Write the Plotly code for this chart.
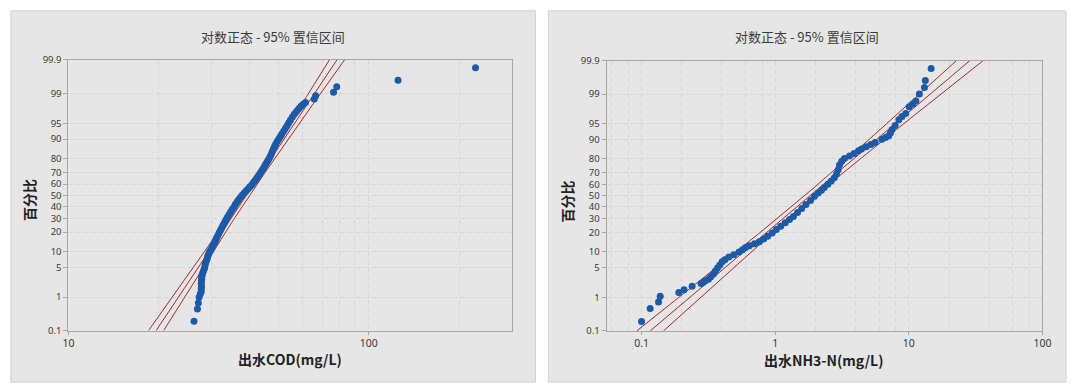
import math
import numpy as np
import plotly.graph_objects as go
from statistics import NormalDist

ND = NormalDist()


def zq(p):
    return ND.inv_cdf(p / 100.0)


W, H = 1080, 392

# ---------------- data ----------------
pct_ticks = [0.1, 1, 5, 10, 20, 30, 40, 50, 60, 70, 80, 90, 95, 99, 99.9]
pct_labels = ["0.1", "1", "5", "10", "20", "30", "40", "50", "60", "70", "80", "90", "95", "99", "99.9"]

title_text = "对数正态 - 95% 置信区间"
y_title = "百分比"
cod_title = "出水COD(mg/L)"
nh3_title = "出水NH3-N(mg/L)"

cod_values = [26.2, 26.9, 27.1, 27.25, 27.5, 27.7, 27.7, 27.75, 27.7, 27.75, 27.8, 27.8, 27.85,
              28.0, 28.2, 28.4, 28.5, 28.6, 28.8, 29.0, 29.1, 29.3, 29.5, 29.8, 30.1, 30.3, 30.6,
              30.8, 31.0, 31.2, 31.5, 31.8, 32.1, 32.4, 32.7, 33.0, 33.3, 33.6,
              33.9, 34.3, 34.7, 35.1, 35.6, 36.0, 36.5, 36.9, 37.4, 37.9, 38.5, 39.1, 39.7, 40.3,
              40.9, 41.4, 41.9, 42.4, 42.9, 43.4, 43.9, 44.4, 44.9, 45.4, 45.9, 46.4, 46.9, 47.3,
              47.7, 48.1, 48.5, 49.0, 49.6, 50.2, 50.8, 51.4, 52.1, 52.8, 53.5, 54.2, 54.9, 55.7,
              56.6, 57.5, 58.5, 59.5, 60.5, 61.6, 65.9, 66.6, 76.4, 78.3, 125.3, 227.0]
cod_pct = [0.2, 0.47, 0.7, 1.0, 1.2, 1.4, 1.65, 1.9, 2.2, 2.5, 2.8, 3.1, 3.4,
           3.8, 4.3, 4.8, 5.4, 6.0, 6.7, 7.4, 8.1, 8.9, 9.8, 10.6, 11.6, 12.6, 13.6,
           14.6, 15.6, 16.7, 18.0, 19.7, 21.2, 22.8, 24.4, 26.0, 27.6, 29.3,
           31.0, 33.0, 35.0, 37.2, 39.5, 41.8, 44.0, 46.0, 48.0, 50.0, 52.0, 54.0, 56.0, 58.0,
           59.8, 61.6, 63.4, 65.2, 67.0, 68.8, 70.6, 72.4, 74.2, 76.0, 77.8, 79.3, 80.8, 82.3,
           83.8, 85.2, 86.5, 87.8, 89.0, 90.0, 91.0, 91.9, 92.8, 93.6, 94.4, 95.1, 95.7, 96.3,
           96.8, 97.2, 97.6, 97.9, 98.1, 98.3, 98.6, 98.85, 99.06, 99.34, 99.57, 99.82]

nh3_values = [0.100, 0.116, 0.134, 0.138, 0.190, 0.208, 0.239, 0.279, 0.29, 0.30, 0.317, 0.33,
              0.345, 0.356, 0.37, 0.385, 0.401, 0.42, 0.45, 0.49, 0.537, 0.57, 0.60, 0.641, 0.70,
              0.762, 0.82, 0.88, 0.95, 1.02, 1.10, 1.19, 1.28, 1.37, 1.47, 1.58, 1.70, 1.84, 1.97,
              2.10, 2.22, 2.33, 2.48, 2.63, 2.77, 2.88, 2.96, 3.03, 3.15, 3.30, 3.6, 3.9, 4.2, 4.43,
              4.8, 5.2, 5.6, 6.29, 6.7, 7.08, 7.3, 7.5, 7.9, 8.43, 8.9, 9.48, 10.07, 10.7, 11.3,
              12.0, 13.1, 13.3, 14.7]
nh3_pct = [0.20, 0.50, 0.76, 1.08, 1.35, 1.58, 1.92, 2.23, 2.4, 2.6, 2.8, 3.2,
           3.7, 4.2, 4.9, 5.7, 6.6, 7.2, 8.1, 8.9, 9.9, 10.9, 11.8, 12.7, 13.6,
           14.7, 16.2, 17.8, 19.7, 22.0, 24.3, 26.9, 29.4, 31.7, 35.0, 38.5, 42.0, 45.8, 49.5,
           52.5, 55.0, 57.5, 60.5, 63.3, 65.9, 69.0, 72.5, 76.0, 78.5, 80.3, 81.8, 83.3, 84.8, 85.8,
           86.9, 87.9, 88.9, 90.2, 90.9, 91.5, 92.5, 93.5, 94.6, 95.9, 96.5, 97.0, 97.9, 98.2, 98.5,
           99.0, 99.34, 99.58, 99.82]

# lognormal fit (log10 location, log10 scale, sample size)
cod_fit_loc, cod_fit_scale, cod_n = 1.5933, 0.0975, 333
nh3_fit_loc, nh3_fit_scale, nh3_n = 0.2605, 0.387, 333

cod_grid_minor = [20, 30, 40, 50, 60, 70, 80, 90, 200]
nh3_grid_minor = [0.06, 0.08, 0.2, 0.4, 0.6, 0.8, 2, 4, 6, 8, 20, 40, 60, 80]

# ---------------- style ----------------
BLUE = "#1c5aa8"
RED = "#a3282c"
GRID = "#d6d6d6"
AXL = "#a6a6a6"
TXT = "#3a3a3a"
FONT = "Noto Sans, Noto Sans CJK SC, sans-serif"
CJK = "Noto Sans CJK SC, sans-serif"

zlo, zhi = zq(0.1), zq(99.9)


def fit_lines(loc, scale, n):
    zz = np.linspace(zlo, zhi, 60)
    half = 1.959964 * scale * np.sqrt(1.0 / n + zz ** 2 / (2.0 * n))
    mid = loc + zz * scale
    return zz, 10 ** mid, 10 ** (mid - half), 10 ** (mid + half)


fig = go.Figure()

panels = [
    dict(vals=cod_values, pct=cod_pct, fit=(cod_fit_loc, cod_fit_scale, cod_n), xa="x", ya="y"),
    dict(vals=nh3_values, pct=nh3_pct, fit=(nh3_fit_loc, nh3_fit_scale, nh3_n), xa="x2", ya="y2"),
]

for p in panels:
    zz, mid, lo, hi = fit_lines(*p["fit"])
    for xs in (lo, mid, hi):
        fig.add_trace(go.Scatter(x=xs, y=zz, mode="lines", line=dict(color=RED, width=1),
                                 xaxis=p["xa"], yaxis=p["ya"], hoverinfo="skip", showlegend=False))
    fig.add_trace(go.Scatter(x=p["vals"], y=[zq(v) for v in p["pct"]], mode="markers",
                             marker=dict(color=BLUE, size=7, line=dict(width=0)),
                             xaxis=p["xa"], yaxis=p["ya"], showlegend=False, cliponaxis=False))


def px(x):
    return x / W


def py(y):
    return 1 - y / H


ycommon = dict(range=[zlo, zhi], tickvals=[zq(v) for v in pct_ticks], ticktext=pct_labels,
               showgrid=True, gridcolor=GRID, griddash="5px,3px", gridwidth=1, zeroline=False,
               showline=True, linecolor=AXL, linewidth=1, mirror=True, ticks="outside",
               ticklen=4, tickcolor=AXL, tickfont=dict(family=FONT, size=9.5, color=TXT))
xcommon = dict(type="log", showgrid=True, gridcolor=GRID, griddash="5px,3px", gridwidth=1,
               zeroline=False, showline=True, linecolor=AXL, linewidth=1, mirror=True,
               ticks="outside", ticklen=3, tickcolor=AXL,
               tickfont=dict(family=FONT, size=10.5, color=TXT))

fig.update_layout(
    width=W, height=H, margin=dict(l=0, r=0, t=0, b=0), autosize=False,
    paper_bgcolor="white", plot_bgcolor="white",
    xaxis=dict(xcommon, domain=[px(63.3), px(513)], range=[1, math.log10(300)],
               tickvals=[10, 100], ticktext=["10", "100"],
               minor=dict(tickvals=cod_grid_minor, showgrid=True, gridcolor=GRID,
                          griddash="5px,3px", ticks="")),
    yaxis=dict(ycommon, domain=[py(334.7), py(54.7)], anchor="x"),
    xaxis2=dict(xcommon, domain=[px(609), px(1051)], range=[math.log10(0.0547), 2],
                tickvals=[0.1, 1, 10, 100], ticktext=["0.1", "1", "10", "100"],
                minor=dict(tickvals=nh3_grid_minor, showgrid=True, gridcolor=GRID,
                           griddash="5px,3px", ticks=""), anchor="y2"),
    yaxis2=dict(ycommon, domain=[py(335), py(55.5)], anchor="x2"),
    showlegend=False,
)

# panel backgrounds
for x0, x1 in ((5, 537), (550, 1075)):
    fig.add_shape(type="rect", xref="paper", yref="paper", x0=px(x0), x1=px(x1), y0=py(388), y1=py(4),
                  fillcolor="#e6e6e6", line=dict(color="#d2d2d2", width=1), layer="below")

ann = [
    dict(x=px(271), y=py(31), text=title_text, font=dict(family=CJK, size=13, color=TXT)),
    dict(x=px(812.5), y=py(31), text=title_text, font=dict(family=CJK, size=13, color=TXT)),
    dict(x=px(288), y=py(364), text="<b>" + cod_title + "</b>", font=dict(family=CJK, size=14, color="#222")),
    dict(x=px(830), y=py(365), text="<b>" + nh3_title + "</b>", font=dict(family=CJK, size=14, color="#222")),
    dict(x=px(24), y=py(200), text="<b>" + y_title + "</b>", textangle=-90, font=dict(family=CJK, size=14, color="#222")),
    dict(x=px(569), y=py(201), text="<b>" + y_title + "</b>", textangle=-90, font=dict(family=CJK, size=14, color="#222")),
]
for a in ann:
    fig.add_annotation(xref="paper", yref="paper", showarrow=False, xanchor="center", yanchor="middle", **a)

fig.write_html("out.html", config={"displayModeBar": False},
               post_script="document.body.style.margin='0';document.body.style.overflow='hidden';")
